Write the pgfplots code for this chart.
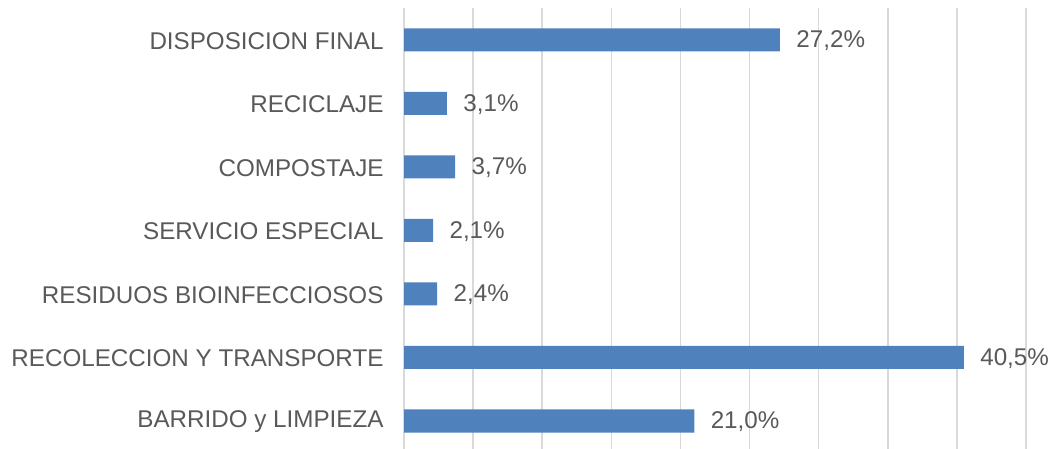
\documentclass[border=0pt]{standalone}
\usepackage{pgfplots}
\pgfplotsset{compat=1.18}
\usepackage{fontspec}
\setmainfont{Liberation Sans}
\definecolor{barblue}{HTML}{4F81BD}
\definecolor{txt}{HTML}{595959}
\definecolor{gridc}{HTML}{D9D9D9}
\begin{document}
\begin{tikzpicture}
\useasboundingbox (0,0) rectangle (1050bp,449bp);
\begin{axis}[
  at={(404bp,-3.75bp)}, anchor=south west,
  scale only axis,
  width=622bp, height=444.5bp,
  xbar, bar width=23bp,
  xmin=0, xmax=45,
  ymin=-0.5, ymax=6.5,
  xtick={0,5,...,45}, xticklabels={},
  ytick={0,...,6},
  yticklabels={BARRIDO y LIMPIEZA,RECOLECCION Y TRANSPORTE,RESIDUOS BIOINFECCIOSOS,SERVICIO ESPECIAL,COMPOSTAJE,RECICLAJE,DISPOSICION FINAL},
  xmajorgrids, grid style={gridc, line width=1.6bp},
  major tick length=0pt,
  axis line style={draw=none},
  tick label style={font=\fontsize{24.2bp}{26bp}\selectfont, text=txt},
  yticklabel style={xshift=-17bp, yshift=-1bp},
  /pgf/number format/assume math mode=true,
  nodes near coords={\pgfmathprintnumber[fixed, fixed zerofill, precision=1, use comma]{\pgfplotspointmeta}\%},
  every node near coord/.append style={font=\fontsize{24.2bp}{26bp}\selectfont, text=txt, xshift=13bp, yshift=-1bp},
  clip=false,
]
\addplot[fill=barblue, draw=none] coordinates {(21.0,0) (40.5,1) (2.4,2) (2.1,3) (3.7,4) (3.1,5) (27.2,6)};
\end{axis}
\end{tikzpicture}
\end{document}
